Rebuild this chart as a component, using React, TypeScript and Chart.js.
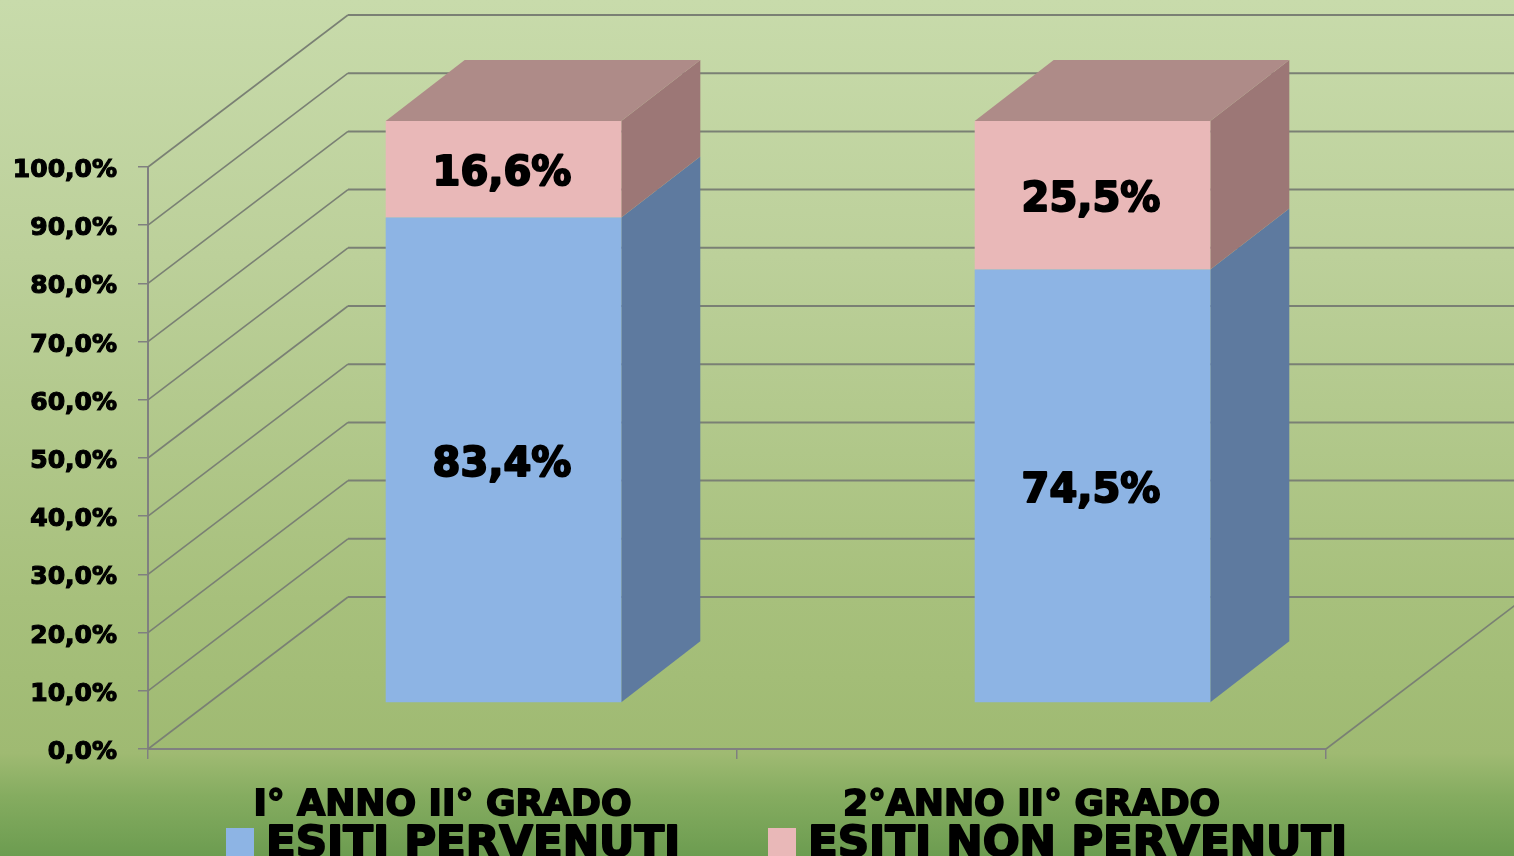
import React, { useEffect, useRef } from "react";
import { Chart, registerables } from "chart.js";

Chart.register(...registerables);

const categories = ["I° ANNO II° GRADO", "2°ANNO II° GRADO"];
const seriesNames = ["ESITI PERVENUTI", "ESITI NON PERVENUTI"];
const pervenuti = [83.4, 74.5];
const nonPervenuti = [16.6, 25.5];
const frontColors = ["#8db4e4", "#e9b8b8"];
const sideColors = ["#5e7a9f", "#9c7776"];
const topColor = "#ae8b88";
const gridColor = "#7a8074";
const axisColor = "#808080";
const FONT = '"DejaVu Sans", sans-serif';

// 3D projection: wall depth and the depth position of the bars
const WALL = { dx: 200, dy: -152 };
const BAR_SHIFT = { dx: 61, dy: -46 };
const BAR_DEPTH = { dx: 79, dy: -61 };

const fmt = (v: number) => v.toFixed(1).replace(".", ",") + "%";

const threeD = {
  id: "threeD",
  beforeDraw(chart: any) {
    // labels sit slightly below their tick marks
    chart.scales.y.getLabelItems().forEach((it: any) => {
      it.options.translation = [it.options.translation[0], it.options.translation[1] + 3.5];
    });
  },
  beforeDatasetsDraw(chart: any) {
    const { ctx, chartArea: a, scales } = chart;
    const y = scales.y;
    ctx.save();
    ctx.strokeStyle = gridColor;
    // side-wall diagonals and back-wall lines
    for (let v = 0; v <= 100; v += 10) {
      const py = y.getPixelForValue(v);
      ctx.lineWidth = 1.6;
      ctx.beginPath();
      ctx.moveTo(a.left, py);
      ctx.lineTo(a.left + WALL.dx, py + WALL.dy);
      ctx.stroke();
      ctx.lineWidth = 2;
      ctx.beginPath();
      ctx.moveTo(a.left + WALL.dx, py + WALL.dy);
      ctx.lineTo(a.right + WALL.dx, py + WALL.dy);
      ctx.stroke();
    }
    // floor's right edge
    {
      const py = y.getPixelForValue(0);
      ctx.lineWidth = 1.6;
      ctx.beginPath();
      ctx.moveTo(a.right, py);
      ctx.lineTo(a.right + WALL.dx, py + WALL.dy);
      ctx.stroke();
    }
    // side and top faces of the bars
    chart.data.datasets.forEach((_: any, di: number) => {
      const meta = chart.getDatasetMeta(di);
      meta.data.forEach((el: any) => {
        const right = el.x + el.width / 2 + BAR_SHIFT.dx;
        const left = el.x - el.width / 2 + BAR_SHIFT.dx;
        const t = el.y + BAR_SHIFT.dy;
        const b = el.base + BAR_SHIFT.dy;
        ctx.fillStyle = sideColors[di];
        ctx.beginPath();
        ctx.moveTo(right, b);
        ctx.lineTo(right + BAR_DEPTH.dx, b + BAR_DEPTH.dy);
        ctx.lineTo(right + BAR_DEPTH.dx, t + BAR_DEPTH.dy);
        ctx.lineTo(right, t);
        ctx.closePath();
        ctx.fill();
        if (di === chart.data.datasets.length - 1) {
          ctx.fillStyle = topColor;
          ctx.beginPath();
          ctx.moveTo(left, t);
          ctx.lineTo(left + BAR_DEPTH.dx, t + BAR_DEPTH.dy);
          ctx.lineTo(right + BAR_DEPTH.dx, t + BAR_DEPTH.dy);
          ctx.lineTo(right, t);
          ctx.closePath();
          ctx.fill();
        }
      });
    });
    ctx.restore();
    // front faces are drawn by the library, pushed back in depth
    ctx.save();
    ctx.translate(BAR_SHIFT.dx, BAR_SHIFT.dy);
  },
  afterDatasetsDraw(chart: any) {
    const { ctx } = chart;
    ctx.restore();
    ctx.save();
    ctx.fillStyle = "#000";
    ctx.strokeStyle = "#000";
    ctx.lineWidth = 2;
    ctx.lineJoin = "round";
    ctx.font = `bold 40px ${FONT}`;
    ctx.textAlign = "center";
    ctx.textBaseline = "middle";
    chart.data.datasets.forEach((ds: any, di: number) => {
      chart.getDatasetMeta(di).data.forEach((el: any, i: number) => {
        const px = el.x + BAR_SHIFT.dx - 1.5;
        const py = (el.y + el.base) / 2 + BAR_SHIFT.dy + 5.5;
        ctx.fillText(fmt(ds.data[i]), px, py);
        ctx.strokeText(fmt(ds.data[i]), px, py);
      });
    });
    ctx.restore();
  },
  afterDraw(chart: any) {
    const { ctx } = chart;
    const items = [
      { box: 226, text: 266 },
      { box: 768, text: 808 },
    ];
    ctx.save();
    ctx.font = `bold 43.5px ${FONT}`;
    ctx.textAlign = "left";
    ctx.textBaseline = "alphabetic";
    ctx.lineWidth = 2;
    ctx.lineJoin = "round";
    ctx.strokeStyle = "#000";
    chart.data.datasets.forEach((ds: any, i: number) => {
      ctx.fillStyle = ds.backgroundColor;
      ctx.fillRect(items[i].box, 828, 28, 28);
      ctx.fillStyle = "#000";
      ctx.fillText(ds.label, items[i].text, 856);
      ctx.strokeText(ds.label, items[i].text, 856);
    });
    ctx.restore();
  },
};

export default function App() {
  const ref = useRef<HTMLCanvasElement>(null);
  useEffect(() => {
    const chart = new Chart(ref.current as HTMLCanvasElement, {
      type: "bar",
      data: {
        labels: categories,
        datasets: [
          { label: seriesNames[0], data: pervenuti, backgroundColor: frontColors[0], borderWidth: 0 },
          { label: seriesNames[1], data: nonPervenuti, backgroundColor: frontColors[1], borderWidth: 0 },
        ],
      },
      options: {
        responsive: false,
        animation: false,
        devicePixelRatio: 1,
        layout: { padding: { top: 167, right: 188, left: 0, bottom: 0 } },
        plugins: { legend: { display: false }, tooltip: { enabled: false } },
        datasets: { bar: { barPercentage: 0.4, categoryPercentage: 1 } },
        scales: {
          x: {
            stacked: true,
            afterFit: (s: any) => { s.height = 107; },
            border: { color: axisColor, width: 2 },
            grid: { offset: true, drawOnChartArea: false, drawTicks: true, tickLength: 10, color: axisColor, lineWidth: 1.5 },
            ticks: {
              color: "#000",
              padding: 25,
              maxRotation: 0,
              textStrokeColor: "#000",
              textStrokeWidth: 1.8,
              font: { family: FONT, weight: "bold", size: 36 },
            },
          },
          y: {
            stacked: true,
            min: 0,
            max: 100,
            afterFit: (s: any) => { s.width = 148; },
            border: { color: axisColor, width: 2 },
            grid: { drawOnChartArea: false, drawTicks: true, tickLength: 10, color: axisColor, lineWidth: 1.5 },
            ticks: {
              stepSize: 10,
              color: "#000",
              padding: 21,
              textStrokeColor: "#000",
              textStrokeWidth: 1.2,
              font: { family: FONT, weight: "bold", size: 25 },
              callback: (v: any) => fmt(Number(v)),
            },
          },
        },
      },
      plugins: [threeD],
    } as any);
    return () => chart.destroy();
  }, []);
  return (
    <div
      style={{
        position: "fixed",
        left: 0,
        top: 0,
        width: 1514,
        height: 856,
        overflow: "hidden",
        background:
          "linear-gradient(to bottom, #c8dbab 0%, #bcd09a 30%, #a7c07c 70%, #9fba72 88%, #85ac60 93%, #6c9c50 100%)",
      }}
    >
      <canvas ref={ref} width={1514} height={856} style={{ display: "block", filter: "blur(0.5px)" }} />
    </div>
  );
}
